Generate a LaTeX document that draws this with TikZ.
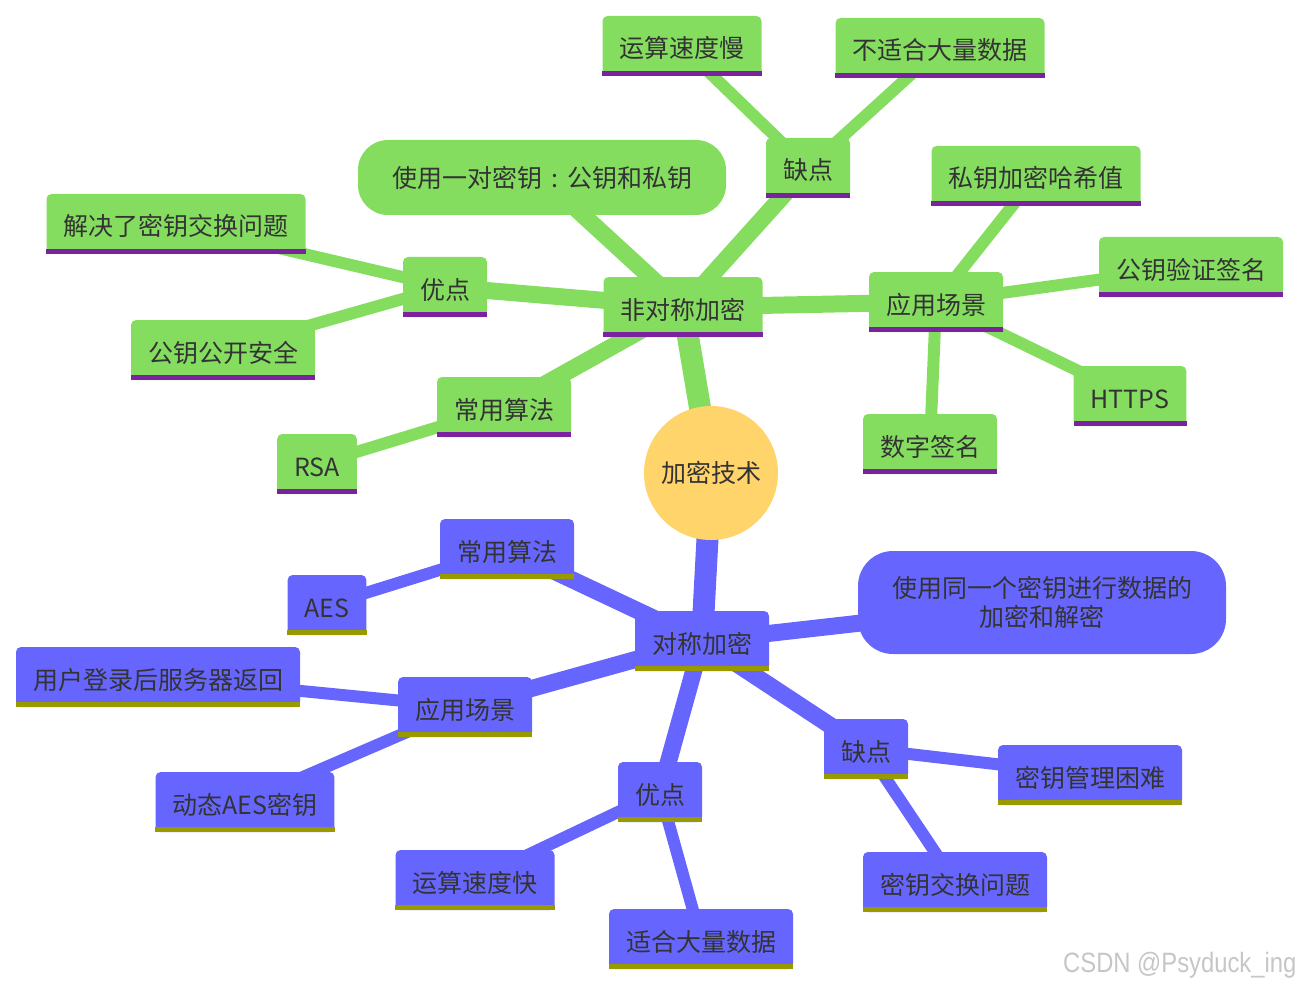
\documentclass[tikz,border=0pt]{standalone}
\usepackage{fontspec}
\setmainfont{Noto Sans CJK SC}
\newfontfamily\wmfont{Liberation Sans}
\usetikzlibrary{backgrounds}
\definecolor{G}{HTML}{85DD5F}
\definecolor{GP}{HTML}{7A22A0}
\definecolor{B}{HTML}{6666FF}
\definecolor{BO}{HTML}{999900}
\definecolor{Y}{HTML}{FFD46B}
\definecolor{T}{HTML}{333333}
\tikzset{
  box/.style={rectangle, rounded corners=5pt, text=T, font=\fontsize{25}{29}\selectfont,
    minimum height=60pt, inner xsep=17pt, inner ysep=0pt, text height=24pt, text depth=0pt},
  gbox/.style={box, fill=G},
  bbox/.style={box, fill=B},
  pill/.style={rectangle, text=T, font=\fontsize{25}{29}\selectfont, align=center,
    minimum width=368pt, inner sep=0pt},
  e0/.style={line width=22pt},
  e1/.style={line width=17pt},
  e2/.style={line width=12pt},
}
\newcommand\gn[3]{\node[gbox] (#1) at (#2) {#3};
  \fill[GP] (#1.south west) rectangle ([yshift=5pt]#1.south east);}
\newcommand\bn[3]{\node[bbox] (#1) at (#2) {#3};
  \fill[BO] (#1.south west) rectangle ([yshift=5pt]#1.south east);}
\begin{document}
\begin{tikzpicture}[x=1pt,y=-1pt]
\useasboundingbox (0,0) rectangle (1300,984);
% root
\node[circle, fill=Y, minimum size=134pt, inner sep=0pt, text=T, font=\fontsize{25}{29}\selectfont] (root) at (711,473) {加密技术};
% asymmetric branch
\gn{N}{683,307}{非对称加密}
\node[pill, fill=G, minimum height=75pt, rounded corners=30pt] (Npill) at (542,177.5) {使用一对密钥\makebox[1em][c]{:}公钥和私钥};
\gn{Nq}{808,168}{缺点}
\gn{Nq1}{682,46}{运算速度慢}
\gn{Nq2}{940,48}{不适合大量数据}
\gn{Na}{936,302}{应用场景}
\gn{Na1}{1036,176}{私钥加密哈希值}
\gn{Na2}{1191,267}{公钥验证签名}
\gn{Na3}{1130,396}{HTTPS}
\gn{Na4}{930,444}{数字签名}
\gn{Ny}{445,287}{优点}
\gn{Ny1}{176,224}{解决了密钥交换问题}
\gn{Ny2}{223,350}{公钥公开安全}
\gn{Nc}{504,407}{常用算法}
\gn{Nc1}{317,464}{RSA}
% symmetric branch
\bn{S}{702,641}{对称加密}
\node[pill, fill=B, minimum height=103pt, rounded corners=35pt] (Spill) at (1042,602.5) {使用同一个密钥进行数据的\\加密和解密};
\bn{Sc}{507,549}{常用算法}
\bn{Sc1}{327,605}{AES}
\bn{Sa}{465,707}{应用场景}
\bn{Sa1}{158,677}{用户登录后服务器返回}
\bn{Sa2}{245,802}{动态AES密钥}
\bn{Sy}{660,792}{优点}
\bn{Sy1}{475,880}{运算速度快}
\bn{Sy2}{701,939}{适合大量数据}
\bn{Sq}{866,749}{缺点}
\bn{Sq1}{1090,775}{密钥管理困难}
\bn{Sq2}{955,882}{密钥交换问题}
% edges
\begin{pgfonlayer}{background}
\draw[G,e0] (root.center) -- (N.center);
\draw[B,e0] (root.center) -- (S.center);
\foreach \c in {Npill,Nq,Na,Ny,Nc} \draw[G,e1] (N.center) -- (\c.center);
\foreach \p/\c in {Nq/Nq1,Nq/Nq2,Na/Na1,Na/Na2,Na/Na3,Na/Na4,Ny/Ny1,Ny/Ny2,Nc/Nc1}
  \draw[G,e2] (\p.center) -- (\c.center);
\foreach \c in {Spill,Sc,Sa,Sy,Sq} \draw[B,e1] (S.center) -- (\c.center);
\foreach \p/\c in {Sc/Sc1,Sa/Sa1,Sa/Sa2,Sy/Sy1,Sy/Sy2,Sq/Sq1,Sq/Sq2}
  \draw[B,e2] (\p.center) -- (\c.center);
\end{pgfonlayer}
% watermark
\node[anchor=base west, text=gray!45, font=\wmfont\fontsize{28}{28}\selectfont, inner sep=0pt] (wm) at (1063,972) {\scalebox{0.85}[1]{CSDN @Psyduck\_ing}};
\end{tikzpicture}
\end{document}
